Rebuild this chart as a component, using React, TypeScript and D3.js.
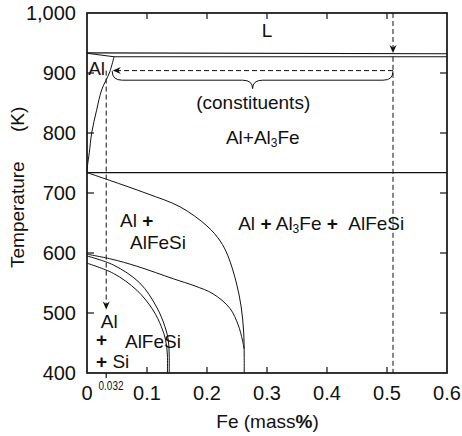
import React from "react";
import * as d3 from "d3";

// axis ticks
const xTicks = [0, 0.1, 0.2, 0.3, 0.4, 0.5, 0.6];
const yTicks = [400, 500, 600, 700, 800, 900, 1000];
const xInnerTicks = [0.1, 0.2, 0.3, 0.4, 0.5];
const yInnerTicks = [500, 600, 700, 800, 900];

// phase boundaries [Fe mass%, K]
const liquidus = [[0, 933.5], [0.6, 932]];
const solidus = [[0, 933], [0.045, 927]];
const eutectic = [[0.045, 927], [0.6, 927]];
const alSolvus = [
  [0.045, 927], [0.038, 902], [0.0245, 872], [0.016, 838],
  [0.0078, 800], [0.0038, 767], [0.001, 747], [0, 735],
];
const eutectoid = [[0, 734], [0.6, 734]];
const alFeSiUpper = [
  [0, 734], [0.038, 721], [0.1, 699], [0.155, 677], [0.2, 645],
  [0.222, 620], [0.235, 595], [0.249, 550], [0.257, 510],
  [0.261, 470], [0.262, 430], [0.262, 400],
];
const alFeSiLower = [
  [0, 598], [0.04, 590], [0.083, 578], [0.144, 557], [0.18, 545],
  [0.21, 532], [0.238, 508], [0.252, 480], [0.259, 455], [0.262, 440],
];
const siUpper = [
  [0, 595], [0.044, 580], [0.088, 550], [0.116, 510], [0.13, 477],
  [0.1355, 455], [0.137, 430], [0.137, 400],
];
const siLower = [
  [0, 583], [0.044, 566], [0.083, 538], [0.11, 505], [0.124, 477],
  [0.131, 455], [0.134, 430], [0.134, 400],
];

// the example alloy
const alloyFe = 0.51;
const solubleFe = 0.032;
const constituentT = 904;
const precipitateT = 506;

const font = "'Liberation Sans', Arial, Helvetica, sans-serif";

export default function App() {
  const x = d3.scaleLinear().domain([0, 0.6]).range([87, 447]);
  const y = d3.scaleLinear().domain([400, 1000]).range([373, 13]);

  const line = d3
    .line<number[]>()
    .x((d) => x(d[0]))
    .y((d) => y(d[1]))
    .curve(d3.curveCatmullRom.alpha(0.5));
  const straight = d3
    .line<number[]>()
    .x((d) => x(d[0]))
    .y((d) => y(d[1]));

  const curves = [alSolvus, alFeSiUpper, alFeSiLower, siUpper, siLower];
  const straights = [liquidus, solidus, eutectic, eutectoid];

  // brace under the dashed arrow
  const xl = x(0.042), xr = x(alloyFe), xm = (xl + xr) / 2;
  const yt = y(903), yf = y(888), ytip = y(874);
  const brace = `M${xl},${yt} Q${xl},${yf} ${xl + 10},${yf} L${xm - 10},${yf} Q${xm},${yf} ${xm},${ytip} Q${xm},${yf} ${xm + 10},${yf} L${xr - 10},${yf} Q${xr},${yf} ${xr},${yt}`;

  const fmt = d3.format(",");
  const tick = 6;

  return (
    <svg
      width={462}
      height={436}
      style={{ position: "absolute", left: 0, top: 0, background: "#fff" }}
      fontFamily={font}
    >
      <defs>
        <marker
          id="arr"
          viewBox="-9 -5 10 10"
          refX={0}
          refY={0}
          markerWidth={10}
          markerHeight={10}
          markerUnits="userSpaceOnUse"
          orient="auto"
        >
          <path d="M0,0 L-8,-3.5 L-5.5,0 L-8,3.5 Z" fill="#111" />
        </marker>
      </defs>

      {/* boundaries */}
      {straights.map((d, i) => (
        <path key={"s" + i} d={straight(d) || ""} fill="none" stroke="#111" strokeWidth={1.1} />
      ))}
      {curves.map((d, i) => (
        <path key={"c" + i} d={line(d) || ""} fill="none" stroke="#111" strokeWidth={1} />
      ))}

      {/* dashed guides */}
      <line x1={x(alloyFe)} x2={x(alloyFe)} y1={y(1000)} y2={y(933.5)} stroke="#111" strokeWidth={1} strokeDasharray="5,3" markerEnd="url(#arr)" />
      <line x1={x(alloyFe)} x2={x(alloyFe)} y1={y(927)} y2={y(400)} stroke="#111" strokeWidth={1} strokeDasharray="5,3" />
      <line x1={x(alloyFe)} x2={x(0.043)} y1={y(constituentT)} y2={y(constituentT)} stroke="#111" strokeWidth={1} strokeDasharray="5,3" markerEnd="url(#arr)" />
      <line x1={x(solubleFe)} x2={x(solubleFe)} y1={y(constituentT)} y2={y(precipitateT)} stroke="#111" strokeWidth={1} strokeDasharray="5,3" markerEnd="url(#arr)" />
      <path d={brace} fill="none" stroke="#111" strokeWidth={1} />

      {/* frame and ticks */}
      <rect x={x(0)} y={y(1000)} width={x(0.6) - x(0)} height={y(400) - y(1000)} fill="none" stroke="#111" strokeWidth={1.7} />
      {xInnerTicks.map((t) => (
        <g key={"xt" + t} stroke="#111" strokeWidth={1.2}>
          <line x1={x(t)} x2={x(t)} y1={y(400)} y2={y(400) - tick} />
          <line x1={x(t)} x2={x(t)} y1={y(1000)} y2={y(1000) + tick} />
        </g>
      ))}
      {yInnerTicks.map((t) => (
        <g key={"yt" + t} stroke="#111" strokeWidth={1.2}>
          <line x1={x(0)} x2={x(0) + tick + 1} y1={y(t)} y2={y(t)} />
          <line x1={x(0.6)} x2={x(0.6) - tick - 1} y1={y(t)} y2={y(t)} />
        </g>
      ))}
      <line x1={x(solubleFe)} x2={x(solubleFe)} y1={y(400)} y2={y(400) + 5} stroke="#111" strokeWidth={1.2} />

      {/* tick labels */}
      {yTicks.map((t) => (
        <text key={"yl" + t} x={x(0) - 11} y={y(t)} dy="0.35em" textAnchor="end" fontSize={20} fill="#111">
          {fmt(t)}
        </text>
      ))}
      {xTicks.map((t) => (
        <text key={"xl" + t} x={x(t)} y={400} textAnchor="middle" fontSize={20} fill="#111">
          {String(t)}
        </text>
      ))}
      <text x={98.5} y={390} fontSize={13} textLength={25} lengthAdjust="spacingAndGlyphs" fill="#111">
        {String(solubleFe)}
      </text>

      {/* axis titles */}
      <text transform="translate(24,268) rotate(-90)" fontSize={19} fill="#111">Temperature</text>
      <text transform="translate(24,132) rotate(-90)" fontSize={19} fill="#111">(K)</text>
      <text x={267.5} y={427.5} textAnchor="middle" fontSize={19} fill="#111">
        Fe (mass<tspan fontWeight="bold">%</tspan>)
      </text>

      {/* phase labels */}
      <g fontSize={19} fill="#111">
        <text x={x(0.3)} y={y(960)} textAnchor="middle">L</text>
        <text x={x(0.002)} y={y(897)}>Al</text>
        <text x={x(0.277)} y={y(840)} textAnchor="middle">(constituents)</text>
        <text x={x(0.293)} y={y(782)} textAnchor="middle">
          Al+Al<tspan fontSize={12} dy={3}>3</tspan><tspan dy={-3}>Fe</tspan>
        </text>
        <text x={x(0.055)} y={y(644)}>
          Al <tspan fontWeight="bold">+</tspan>
        </text>
        <text x={x(0.0717)} y={y(606)}>AlFeSi</text>
        <text x={x(0.252)} y={y(638)}>
          Al <tspan fontWeight="bold">+</tspan> Al<tspan fontSize={12} dy={3}>3</tspan><tspan dy={-3}>Fe </tspan><tspan fontWeight="bold">+</tspan>
        </text>
        <text x={x(0.4355)} y={y(638)}>AlFeSi</text>
        <text x={x(0.023)} y={y(475.5)}>Al</text>
        <text x={x(0.015)} y={y(445)} fontWeight="bold">+</text>
        <text x={x(0.0633)} y={y(441)}>AlFeSi</text>
        <text x={x(0.015)} y={y(409)}>
          <tspan fontWeight="bold">+</tspan> Si
        </text>
      </g>
    </svg>
  );
}
